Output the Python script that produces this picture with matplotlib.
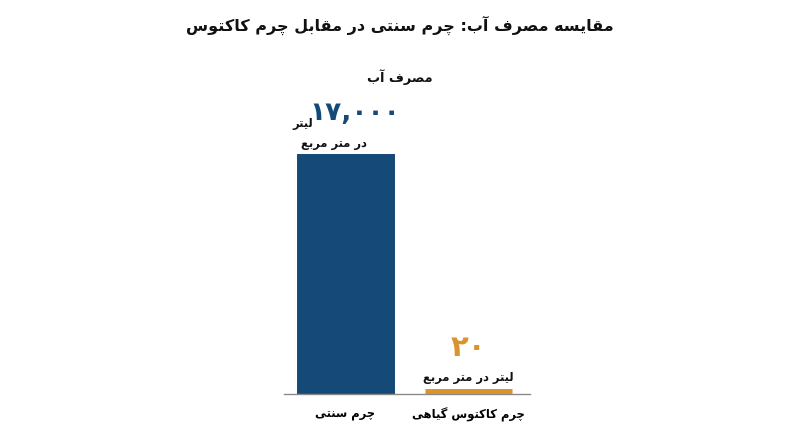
import numpy as np
import matplotlib
matplotlib.use("Agg")
import matplotlib.pyplot as plt

plt.rcParams['font.family'] = ['DejaVu Sans']

# data
categories = ['چرم سنتی', 'چرم کاکتوس گیاهی']
water_use = [17000, 20]
unit = 'لیتر در متر مربع'
unit_word = 'لیتر'
unit_rest = 'در متر مربع'
series_name = 'مصرف آب'
title = 'مقایسه مصرف آب: چرم سنتی در مقابل چرم کاکتوس'
colors = ['#154a78', '#d9952b']

# matplotlib does no arabic shaping, so pick presentation forms by hand
# (isolated, final, initial, medial)
FORMS = {
    'ا': ('\uFE8D', '\uFE8E', None, None),
    'آ': ('\uFE81', '\uFE82', None, None),
    'د': ('\uFEA9', '\uFEAA', None, None),
    'ر': ('\uFEAD', '\uFEAE', None, None),
    'و': ('\uFEED', '\uFEEE', None, None),
    'ب': ('\uFE8F', '\uFE90', '\uFE91', '\uFE92'),
    'ت': ('\uFE95', '\uFE96', '\uFE97', '\uFE98'),
    'چ': ('\uFB7A', '\uFB7B', '\uFB7C', '\uFB7D'),
    'س': ('\uFEB1', '\uFEB2', '\uFEB3', '\uFEB4'),
    'ص': ('\uFEB9', '\uFEBA', '\uFEBB', '\uFEBC'),
    'ع': ('\uFEC9', '\uFECA', '\uFECB', '\uFECC'),
    'ف': ('\uFED1', '\uFED2', '\uFED3', '\uFED4'),
    'ق': ('\uFED5', '\uFED6', '\uFED7', '\uFED8'),
    'ک': ('\uFB8E', '\uFB8F', '\uFB90', '\uFB91'),
    'گ': ('\uFB92', '\uFB93', '\uFB94', '\uFB95'),
    'ل': ('\uFEDD', '\uFEDE', '\uFEDF', '\uFEE0'),
    'م': ('\uFEE1', '\uFEE2', '\uFEE3', '\uFEE4'),
    'ن': ('\uFEE5', '\uFEE6', '\uFEE7', '\uFEE8'),
    'ه': ('\uFEE9', '\uFEEA', '\uFEEB', '\uFEEC'),
    'ی': ('\uFBFC', '\uFBFD', '\uFBFE', '\uFBFF'),
}


def joins_forward(c):
    return c in FORMS and FORMS[c][2] is not None


def fa(text):
    out = []
    for i, c in enumerate(text):
        if c not in FORMS:
            out.append(c)
            continue
        prev = text[i - 1] if i > 0 else ''
        nxt = text[i + 1] if i + 1 < len(text) else ''
        p = joins_forward(prev)
        n = joins_forward(c) and nxt in FORMS
        iso, fin, ini, med = FORMS[c]
        if p and n:
            out.append(med)
        elif p:
            out.append(fin)
        elif n:
            out.append(ini)
        else:
            out.append(iso)
    return ''.join(reversed(out))


def fa_num(v):
    return f'{v:,}'.translate(str.maketrans('0123456789', '۰۱۲۳۴۵۶۷۸۹'))


fig = plt.figure(figsize=(8, 4.47), dpi=100)
ax = fig.add_axes([0.355, 0.1186, 0.3075, 0.5578])

x = np.arange(len(categories))
# edge in same colour gives the tiny bar a visible thickness
ax.bar(x, water_use, width=0.70, color=colors, edgecolor=colors, linewidth=7.9)
ax.set_xlim(-0.5, 1.5)
ax.set_ylim(0, 18000)

for s in ['top', 'right', 'left']:
    ax.spines[s].set_visible(False)
ax.spines['bottom'].set_color('#8a8a8a')
ax.spines['bottom'].set_linewidth(1.0)
ax.set_yticks([])
ax.set_xticks(x)
ax.set_xticklabels([fa(c) for c in categories], fontsize=8.3, fontweight='bold')
ax.tick_params(axis='x', length=0, pad=10)

fig.text(0.5, 0.944, fa(title), ha='center', va='center', fontsize=11.5,
         fontweight='bold', color='#111111')
fig.text(0.5, 0.828, fa(series_name), ha='center', va='center',
         fontsize=9.3, fontweight='bold', color='#111111')

# big label over first bar
ax.annotate(fa_num(water_use[0]), (x[0], water_use[0]), xytext=(7, 33),
            textcoords='offset points', ha='center', va='center',
            fontsize=19, fontweight='bold', color=colors[0], annotation_clip=False)
ax.annotate(fa(unit_word), (x[0], water_use[0]), xytext=(-31, 25),
            textcoords='offset points', ha='center', va='center',
            fontsize=8.3, fontweight='bold', color='#111111', annotation_clip=False)
ax.annotate(fa(unit_rest), (x[0], water_use[0]), xytext=(-8, 11),
            textcoords='offset points', ha='center', va='center',
            fontsize=8.3, fontweight='bold', color='#111111', annotation_clip=False)

# label over second bar
ax.annotate(fa_num(water_use[1]), (x[1], water_use[1]), xytext=(0, 33),
            textcoords='offset points', ha='center', va='center',
            fontsize=21, fontweight='bold', color=colors[1], annotation_clip=False)
ax.annotate(fa(unit), (x[1], water_use[1]), xytext=(0, 12),
            textcoords='offset points', ha='center', va='center',
            fontsize=8.3, fontweight='bold', color='#111111', annotation_clip=False)

fig.savefig('out.png', dpi=100, facecolor='white')
